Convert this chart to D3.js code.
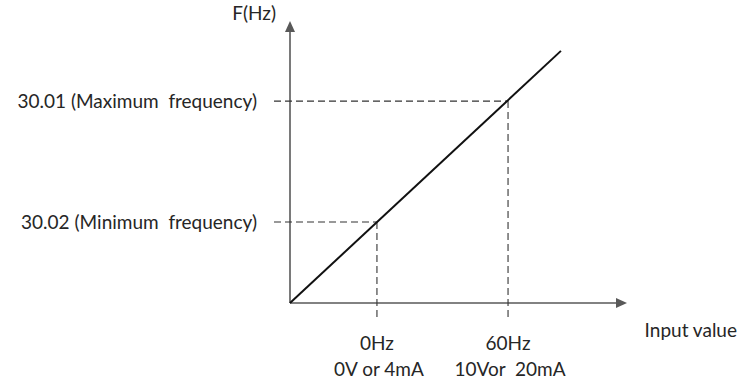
<!DOCTYPE html>
<html><head><meta charset="utf-8">
<script src="https://cdn.jsdelivr.net/npm/d3@7"></script>
<style>body{margin:0;background:#fff}text{font-family:Lato,"Open Sans",sans-serif;fill:#262626;white-space:pre}</style>
</head><body><svg width="738" height="382"></svg>
<script>
// data
const lineInput = [0, 8.04];
const lineOutput = [0, 8.94];
const markInput = [2.58, 6.47];
const markOutput = [2.87, 7.16];
const yLabels = ["30.02 (Minimum  frequency)", "30.01 (Maximum  frequency)"];
const xLabelsTop = ["0Hz", "60Hz"];
const xLabelsBottom = ["0V or 4mA", "10Vor  20mA"];
const yTitle = "F(Hz)";
const xTitle = "Input value";

const svg = d3.select("svg");
const x = d3.scaleLinear().domain([0, 10]).range([290, 627]);
const y = d3.scaleLinear().domain([0, 10]).range([303, 21]);
const axisColor = "#595959";
const fs = "19px";

// axes
svg.append("line").attr("x1", x(0)).attr("x2", x(10) - 9).attr("y1", y(0)).attr("y2", y(0))
  .attr("stroke", axisColor).attr("stroke-width", 1.6);
svg.append("line").attr("x1", x(0)).attr("x2", x(0)).attr("y1", y(0)).attr("y2", y(10) + 9)
  .attr("stroke", axisColor).attr("stroke-width", 1.6);
svg.append("path").attr("d", `M${x(10)},${y(0)} L${x(10)-11},${y(0)-5} L${x(10)-11},${y(0)+5} Z`).attr("fill", axisColor);
svg.append("path").attr("d", `M${x(0)},${y(10)} L${x(0)-5},${y(10)+11} L${x(0)+5},${y(10)+11} Z`).attr("fill", axisColor);

// dashed guides
markInput.forEach((v, i) => {
  const px = x(v), py = y(markOutput[i]);
  svg.append("line").attr("x1", x(0) - 16).attr("x2", px).attr("y1", py).attr("y2", py)
    .attr("stroke", "#333").attr("stroke-width", 1.1).attr("stroke-dasharray", "7,4");
  svg.append("line").attr("x1", px).attr("x2", px).attr("y1", py).attr("y2", y(0) + 15)
    .attr("stroke", "#333").attr("stroke-width", 1.1).attr("stroke-dasharray", "7,4");
});

// main line
svg.append("line").attr("x1", x(lineInput[0])).attr("y1", y(lineOutput[0]))
  .attr("x2", x(lineInput[1])).attr("y2", y(lineOutput[1]))
  .attr("stroke", "#111").attr("stroke-width", 2);

// labels
yLabels.forEach((t, i) => {
  svg.append("text").attr("x", x(0) - 33).attr("y", y(markOutput[i])).attr("dy", "0.35em")
    .attr("text-anchor", "end").style("font-size", fs).text(t);
});
markInput.forEach((v, i) => {
  svg.append("text").attr("x", x(v)).attr("y", 350).attr("text-anchor", "middle").style("font-size", fs).text(xLabelsTop[i]);
  svg.append("text").attr("x", x(v) + 2).attr("y", 376).attr("text-anchor", "middle").style("font-size", fs).text(xLabelsBottom[i]);
});
svg.append("text").attr("x", 276).attr("y", 20).attr("text-anchor", "end").style("font-size", fs).text(yTitle);
svg.append("text").attr("x", 737).attr("y", 337).attr("text-anchor", "end").style("font-size", fs).text(xTitle);
</script></body></html>
